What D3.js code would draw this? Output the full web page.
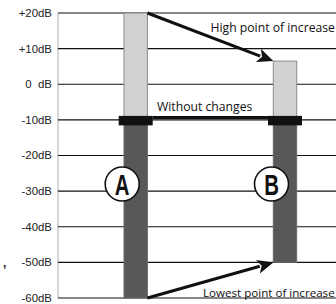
<!DOCTYPE html>
<html><head><meta charset="utf-8">
<script src="https://cdn.jsdelivr.net/npm/d3@7"></script>
<style>html,body{margin:0;padding:0;background:#fff;overflow:hidden}</style>
</head><body>
<svg id="c" width="336" height="304"></svg>
<script>
const categories = ["A", "B"];
const highValues = [20, 6.5];
const lowValues = [-60, -50];
const baseValue = -10;
const tickValues = [20, 10, 0, -10, -20, -30, -40, -50, -60];
const tickLabels = ["+20dB", "+10dB", "0  dB", "-10dB", "-20dB", "-30dB", "-40dB", "-50dB", "-60dB"];
const annotations = ["High point of increase", "Without changes", "Lowest point of increase"];

const svg = d3.select("#c");
const y = d3.scaleLinear().domain([-60, 20]).range([298, 13]);
const x = d3.scalePoint().domain(categories).range([135.7, 285]);
const bw = 23.4;
const left = 58, right = 336;

// axis line
svg.append("line").attr("x1", left).attr("x2", left).attr("y1", y(20)).attr("y2", y(-60))
  .attr("stroke", "#c8c8c8").attr("stroke-width", 1.5);
// gridlines
svg.selectAll("line.grid").data(tickValues).enter().append("line").attr("class", "grid")
  .attr("x1", left).attr("x2", right).attr("y1", d => y(d)).attr("y2", d => y(d))
  .attr("stroke", "#111").attr("stroke-width", 1.1);
// tick labels
const lg = svg.append("g").attr("transform", "scale(1.06,1)");
lg.selectAll("text").data(tickValues).enter().append("text")
  .attr("x", 52 / 1.06).attr("y", d => y(d) + 4)
  .attr("text-anchor", "end").attr("font-family", "Liberation Sans, Arial, sans-serif")
  .attr("font-size", 10.8).attr("fill", "#222").style("white-space", "pre")
  .text((d, i) => tickLabels[i]);
svg.append("text").attr("x", 3).attr("y", 267).attr("font-family", "Liberation Sans, Arial")
  .attr("font-size", 12).attr("font-weight", "bold").attr("fill", "#222").text(",");

// bars
categories.forEach((c, i) => {
  const cx = x(c);
  svg.append("rect").attr("x", cx - bw / 2).attr("width", bw)
    .attr("y", y(highValues[i])).attr("height", y(baseValue) - y(highValues[i]))
    .attr("fill", "#d2d2d3").attr("stroke", "#8a8a8a").attr("stroke-width", 1);
  svg.append("rect").attr("x", cx - bw / 2).attr("width", bw)
    .attr("y", y(baseValue)).attr("height", y(lowValues[i]) - y(baseValue))
    .attr("fill", "#58585a").attr("stroke", "#6a6a6a").attr("stroke-width", 1);
});

// without changes line
svg.append("line").attr("x1", x("A") + 17).attr("x2", x("B") - 17)
  .attr("y1", y(baseValue) - 2.5).attr("y2", y(baseValue) - 2.5)
  .attr("stroke", "#111").attr("stroke-width", 3);
// caps
categories.forEach(c => {
  svg.append("rect").attr("x", x(c) - 17).attr("width", 34)
    .attr("y", y(baseValue) - 4).attr("height", 9.5).attr("fill", "#111");
});

// circle labels
categories.forEach(c => {
  const cx = x(c) - 13.5, cy = y(-28);
  svg.append("circle").attr("cx", cx).attr("cy", cy).attr("r", 17)
    .attr("fill", "#fff").attr("stroke", "#111").attr("stroke-width", 1.6);
  svg.append("g").attr("transform", `translate(${cx},${cy}) scale(0.68,1)`)
    .append("text").attr("x", 0).attr("y", 11).attr("text-anchor", "middle")
    .attr("font-family", "Liberation Sans, Arial, sans-serif")
    .attr("font-weight", "bold").attr("font-size", 30).attr("fill", "#111").text(c);
});

// arrows
function arrow(x1, y1, x2, y2) {
  const ang = Math.atan2(y2 - y1, x2 - x1);
  const L = 16, W = 7;
  const bx = x2 - L * Math.cos(ang), by = y2 - L * Math.sin(ang);
  svg.append("line").attr("x1", x1).attr("y1", y1).attr("x2", bx + 2 * Math.cos(ang)).attr("y2", by + 2 * Math.sin(ang))
    .attr("stroke", "#111").attr("stroke-width", 3);
  const px = -Math.sin(ang), py = Math.cos(ang);
  svg.append("path").attr("d", `M${x2},${y2}L${bx + W * px},${by + W * py}L${bx + 4*Math.cos(ang)},${by + 4*Math.sin(ang)}L${bx - W * px},${by - W * py}Z`)
    .attr("fill", "#111");
}
arrow(x("A") + bw / 2, y(highValues[0]), x("B") - bw / 2, y(highValues[1]));
arrow(x("A") + bw / 2, y(lowValues[0]), x("B") - bw / 2, y(lowValues[1]));

// annotations
const af = "Open Sans, Noto Sans, sans-serif";
svg.append("text").attr("x", 210.5).attr("y", 32).attr("font-family", af).attr("font-size", 12.2)
  .attr("fill", "#111").text(annotations[0]);
svg.append("text").attr("x", 157).attr("y", 110.5).attr("font-family", af).attr("font-size", 12.2)
  .attr("fill", "#111").text(annotations[1]);
svg.append("text").attr("x", 203).attr("y", 297).attr("font-family", af).attr("font-size", 11.6)
  .attr("fill", "#111").text(annotations[2]);
</script>
</body></html>
